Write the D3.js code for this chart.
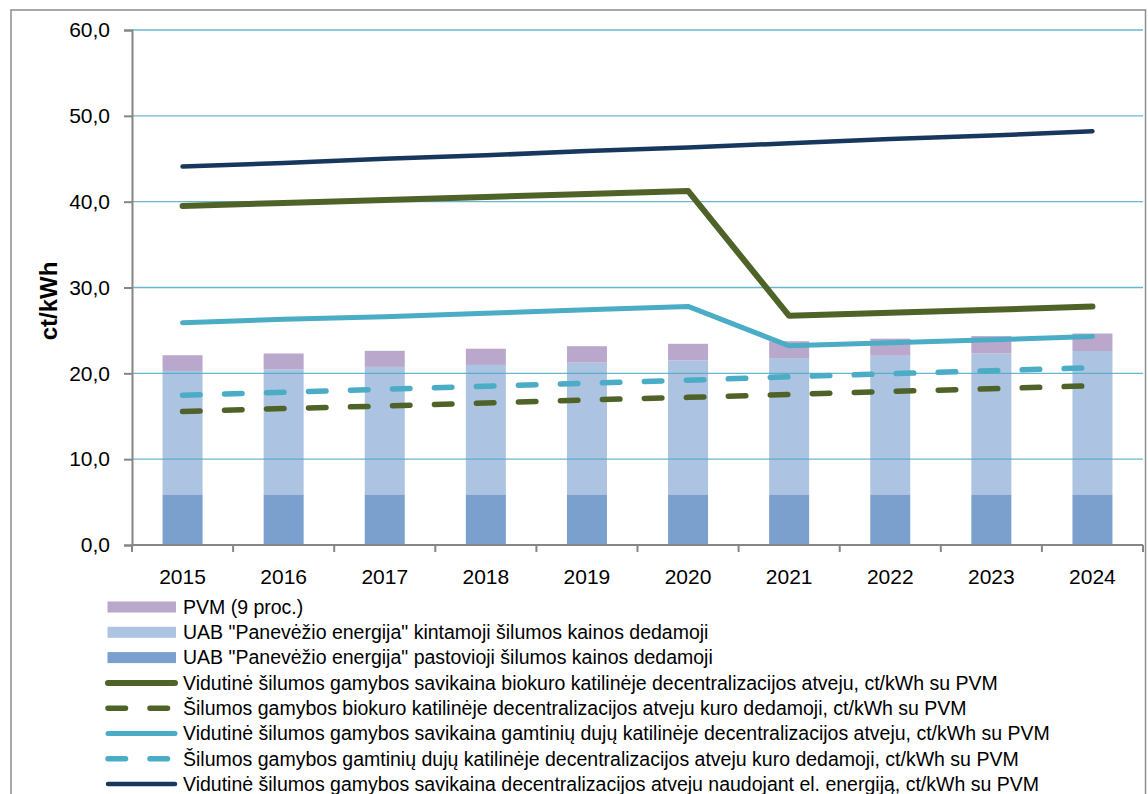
<!DOCTYPE html>
<html>
<head>
<meta charset="utf-8">
<script src="https://cdn.jsdelivr.net/npm/d3@7"></script>
<style>
  body { margin: 0; background: #fff; }
  svg { display: block; font-family: "Liberation Sans", Arial, sans-serif; }
</style>
</head>
<body>
<script>
// metai
var years = ["2015", "2016", "2017", "2018", "2019", "2020", "2021", "2022", "2023", "2024"];

// stulpeliai (ct/kWh)
var fixedPart    = [5.9, 5.9, 5.9, 5.9, 5.9, 5.9, 5.9, 5.9, 5.9, 5.9];
var variablePart = [14.38, 14.57, 14.85, 15.08, 15.35, 15.6, 15.88, 16.15, 16.43, 16.7];
var vatPart      = [1.83, 1.84, 1.87, 1.89, 1.91, 1.94, 1.96, 1.99, 2.01, 2.04];

// linijos (ct/kWh)
var bioAvg  = [39.5, 39.85, 40.2, 40.55, 40.9, 41.25, 26.7, 27.05, 27.4, 27.8];
var bioFuel = [15.55, 15.9, 16.2, 16.55, 16.9, 17.2, 17.55, 17.9, 18.2, 18.55];
var gasAvg  = [25.9, 26.3, 26.6, 27.0, 27.4, 27.8, 23.2, 23.55, 23.9, 24.3];
var gasFuel = [17.45, 17.8, 18.15, 18.5, 18.85, 19.2, 19.6, 19.95, 20.3, 20.65];
var elecAvg = [44.1, 44.5, 45.0, 45.4, 45.9, 46.3, 46.8, 47.3, 47.7, 48.2];

var yTicks = [0, 10, 20, 30, 40, 50, 60];

var barNames = [
  "UAB \"Panevėžio energija\" pastovioji šilumos kainos dedamoji",
  "UAB \"Panevėžio energija\" kintamoji šilumos kainos dedamoji",
  "PVM (9 proc.)"
];
var lineNames = [
  "Vidutinė šilumos gamybos savikaina biokuro katilinėje decentralizacijos atveju, ct/kWh su PVM",
  "Šilumos gamybos biokuro katilinėje decentralizacijos atveju kuro dedamoji, ct/kWh su PVM",
  "Vidutinė šilumos gamybos savikaina gamtinių dujų katilinėje decentralizacijos atveju, ct/kWh su PVM",
  "Šilumos gamybos gamtinių dujų katilinėje decentralizacijos atveju kuro dedamoji, ct/kWh su PVM",
  "Vidutinė šilumos gamybos savikaina decentralizacijos atveju naudojant el. energiją, ct/kWh su PVM"
];

var width = 1148, height = 794;
var plot = {left: 132, right: 1143, top: 30, bottom: 545};

var svg = d3.select("body").append("svg")
    .attr("width", width)
    .attr("height", height);

svg.append("rect")
    .attr("x", 11).attr("y", 10)
    .attr("width", 1134.5).attr("height", 800)
    .attr("fill", "#fff")
    .attr("stroke", "#8c8c8c")
    .attr("stroke-width", 1.5);

var xb = d3.scaleBand().domain(years).range([plot.left, plot.right]);
var y = d3.scaleLinear().domain([0, 60]).range([plot.bottom, plot.top]);

// stulpeliai
var table = years.map(function(yr, i) {
  return {year: yr, fixed: fixedPart[i], variable: variablePart[i], vat: vatPart[i]};
});
var stack = d3.stack().keys(["fixed", "variable", "vat"])(table);
var barColors = ["#7ba0cd", "#acc3e1", "#b9a8cb"];

svg.append("g").selectAll("g")
  .data(stack)
  .enter().append("g")
    .attr("fill", function(d, i) { return barColors[i]; })
  .selectAll("rect")
  .data(function(d) { return d; })
  .enter().append("rect")
    .attr("x", function(d) { return xb(d.data.year) + (xb.bandwidth() - 40) / 2; })
    .attr("width", 40)
    .attr("y", function(d) { return y(d[1]); })
    .attr("height", function(d) { return y(d[0]) - y(d[1]); });

// tinklelis
svg.append("g").selectAll("line")
  .data(yTicks.filter(function(t) { return t > 0; }))
  .enter().append("line")
    .attr("x1", plot.left).attr("x2", plot.right)
    .attr("y1", function(d) { return y(d); })
    .attr("y2", function(d) { return y(d); })
    .attr("stroke", "#4bacc6")
    .attr("stroke-opacity", 0.85)
    .attr("stroke-width", 1.4);

// ašys
var yAxis = d3.axisLeft(y).tickValues(yTicks).tickSize(8).tickPadding(14)
  .tickFormat(function(d) { return d3.format(".1f")(d).replace(".", ","); });
var gy = svg.append("g").attr("transform", "translate(" + plot.left + ",0)").call(yAxis);
gy.select(".domain").attr("stroke", "#868686").attr("stroke-width", 2);
gy.selectAll(".tick line").attr("stroke", "#868686").attr("stroke-width", 2);
gy.selectAll(".tick text").attr("font-size", 21).attr("fill", "#000")
  .attr("font-family", "Liberation Sans, Arial, sans-serif");

var gx = svg.append("g").attr("transform", "translate(0," + plot.bottom + ")");
gx.append("line").attr("x1", plot.left).attr("x2", plot.right)
  .attr("stroke", "#868686").attr("stroke-width", 2);
gx.selectAll(".tk")
  .data(years.concat(["end"]))
  .enter().append("line")
    .attr("x1", function(d, i) { return plot.left + i * xb.bandwidth(); })
    .attr("x2", function(d, i) { return plot.left + i * xb.bandwidth(); })
    .attr("y1", 0).attr("y2", 7)
    .attr("stroke", "#868686").attr("stroke-width", 2);
gx.selectAll("text")
  .data(years)
  .enter().append("text")
    .attr("x", function(d) { return xb(d) + xb.bandwidth() / 2; })
    .attr("y", 38.5)
    .attr("text-anchor", "middle")
    .attr("font-size", 21)
    .text(function(d) { return d; });

svg.append("text")
  .attr("transform", "translate(57,301) rotate(-90)")
  .attr("text-anchor", "middle")
  .attr("font-size", 24)
  .attr("font-weight", "bold")
  .text("ct/kWh");

// linijos
var lineSeries = [
  {values: bioAvg,  color: "#4f6228", w: 6,   dash: null},
  {values: bioFuel, color: "#4f6228", w: 5.5, dash: "17.5,24.5"},
  {values: gasAvg,  color: "#4bacc6", w: 5,   dash: null},
  {values: gasFuel, color: "#4bacc6", w: 5.5, dash: "17.5,24.5"},
  {values: elecAvg, color: "#17375e", w: 4.5, dash: null}
];

var line = d3.line()
  .x(function(d, i) { return xb(years[i]) + xb.bandwidth() / 2; })
  .y(function(d) { return y(d); });

svg.append("g").selectAll("path")
  .data(lineSeries)
  .enter().append("path")
    .attr("d", function(d) { return line(d.values); })
    .attr("fill", "none")
    .attr("stroke", function(d) { return d.color; })
    .attr("stroke-width", function(d) { return d.w; })
    .attr("stroke-dasharray", function(d) { return d.dash; })
    .attr("stroke-linecap", "round")
    .attr("stroke-linejoin", "round");

// legenda
var legendItems = [
  {name: barNames[2], type: "rect", color: barColors[2]},
  {name: barNames[1], type: "rect", color: barColors[1]},
  {name: barNames[0], type: "rect", color: barColors[0]}
];
lineSeries.forEach(function(s, i) {
  legendItems.push({name: lineNames[i], type: "line", color: s.color, w: s.w, dash: s.dash});
});

var leg = svg.append("g").selectAll("g")
  .data(legendItems)
  .enter().append("g")
    .attr("transform", function(d, i) { return "translate(0," + (607 + i * 25.3) + ")"; });

leg.filter(function(d) { return d.type == "rect"; })
  .append("rect")
    .attr("x", 107.5).attr("y", -5.5)
    .attr("width", 68.5).attr("height", 11)
    .attr("fill", function(d) { return d.color; });

leg.filter(function(d) { return d.type == "line"; })
  .append("line")
    .attr("x1", 108).attr("x2", 175)
    .attr("stroke", function(d) { return d.color; })
    .attr("stroke-width", function(d) { return d.w; })
    .attr("stroke-dasharray", function(d) { return d.dash; })
    .attr("stroke-linecap", "round");

leg.append("text")
  .attr("x", 183)
  .attr("dy", "0.35em")
  .attr("font-size", 19.5)
  .text(function(d) { return d.name; });
</script>
</body>
</html>
